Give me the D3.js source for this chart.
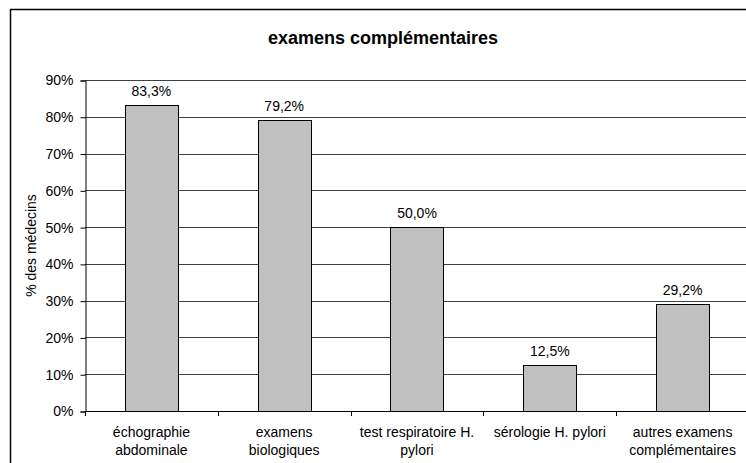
<!DOCTYPE html>
<html>
<head>
<meta charset="utf-8">
<title>examens complémentaires</title>
<script src="https://d3js.org/d3.v7.min.js"></script>
<style>
  body { margin: 0; background: #fff; }
  text { font-family: "Liberation Sans", Arial, sans-serif; fill: #000; }
</style>
</head>
<body>
<div id="chart"></div>
<script>

// data
var categories = [
  ["échographie", "abdominale"],
  ["examens", "biologiques"],
  ["test respiratoire H.", "pylori"],
  ["sérologie H. pylori"],
  ["autres examens", "complémentaires"]
];
var values = [83.3, 79.2, 50.0, 12.5, 29.2];
var yTicks = [0, 10, 20, 30, 40, 50, 60, 70, 80, 90];

var width = 746,
    height = 463;

// plot area (right side runs off the picture, like the original)
var plotL = 85, plotR = 749, plotT = 80, plotB = 411;

var svg = d3.select("#chart")
  .append("svg")
    .attr("width", width)
    .attr("height", height);

// outer frame of the chart
svg.append("rect")
  .attr("x", 10.5).attr("y", 9.5)
  .attr("width", 800).attr("height", 500)
  .attr("fill", "none")
  .attr("stroke", "#000")
  .attr("stroke-width", 1.5);

var x = d3.scaleBand()
  .domain(d3.range(categories.length))
  .range([plotL, plotR])
  .paddingInner(0.6)
  .paddingOuter(0.3);

var y = d3.scaleLinear()
  .domain([0, 90])
  .range([plotB, plotT]);

var fr = d3.formatLocale({ decimal: ",", thousands: " ", grouping: [3], currency: ["", "€"] });
var fmt = fr.format(".1f");

// gridlines
svg.append("g")
  .selectAll("line")
  .data(yTicks.filter(function(d) { return d > 0; }))
  .enter().append("line")
    .attr("x1", plotL).attr("x2", width + 10)
    .attr("y1", function(d) { return Math.round(y(d)) + 0.5; })
    .attr("y2", function(d) { return Math.round(y(d)) + 0.5; })
    .attr("stroke", "#404040")
    .attr("stroke-width", 1);

// bars
svg.append("g")
  .selectAll("rect")
  .data(values)
  .enter().append("rect")
    .attr("x", function(d, i) { return Math.round(x(i)) + 0.5; })
    .attr("y", function(d) { return Math.round(y(d)) + 0.5; })
    .attr("width", Math.round(x.bandwidth()))
    .attr("height", function(d) { return Math.round(y(0)) - Math.round(y(d)); })
    .attr("fill", "#c0c0c0")
    .attr("stroke", "#000")
    .attr("stroke-width", 1);

// value labels
svg.append("g")
  .selectAll("text")
  .data(values)
  .enter().append("text")
    .attr("x", function(d, i) { return x(i) + x.bandwidth() / 2; })
    .attr("y", function(d) { return y(d) - 9; })
    .attr("text-anchor", "middle")
    .style("font-size", "14px")
    .text(function(d) { return fmt(d) + "%"; });

// y axis
var yAxis = svg.append("g")
  .attr("transform", "translate(" + (plotL + 0.5) + ",0.5)")
  .call(d3.axisLeft(y).tickValues(yTicks).tickSize(5).tickPadding(7)
    .tickFormat(function(d) { return d + "%"; }));
yAxis.select(".domain").attr("stroke", "#000");
yAxis.selectAll("text").style("font-size", "14px").attr("font-family", null);

// x axis: ticks sit on the category boundaries
var bounds = d3.range(categories.length + 1).map(function(i) { return plotL + i * (plotR - plotL) / categories.length; });
svg.append("line")
  .attr("x1", plotL).attr("x2", width + 10)
  .attr("y1", plotB + 0.5).attr("y2", plotB + 0.5)
  .attr("stroke", "#000");
svg.append("g")
  .selectAll("line")
  .data(bounds)
  .enter().append("line")
    .attr("x1", function(d) { return Math.round(d) + 0.5; })
    .attr("x2", function(d) { return Math.round(d) + 0.5; })
    .attr("y1", plotB).attr("y2", plotB + 5)
    .attr("stroke", "#000");

// category labels
var lab = svg.append("g")
  .selectAll("text")
  .data(categories)
  .enter().append("text")
    .attr("text-anchor", "middle")
    .style("font-size", "14px")
    .attr("transform", function(d, i) { return "translate(" + (x(i) + x.bandwidth() / 2) + "," + (plotB + 26) + ")"; });
lab.selectAll("tspan")
  .data(function(d) { return d; })
  .enter().append("tspan")
    .attr("x", 0)
    .attr("dy", function(d, i) { return i === 0 ? 0 : 18; })
    .text(function(d) { return d; });

// axis title
svg.append("text")
  .attr("transform", "translate(36," + ((plotT + plotB) / 2) + ") rotate(-90)")
  .attr("text-anchor", "middle")
  .style("font-size", "14px")
  .text("% des médecins");

// chart title
svg.append("text")
  .attr("x", 383)
  .attr("y", 44)
  .attr("text-anchor", "middle")
  .style("font-size", "18px")
  .style("font-weight", "bold")
  .text("examens complémentaires");

</script>
</body>
</html>
